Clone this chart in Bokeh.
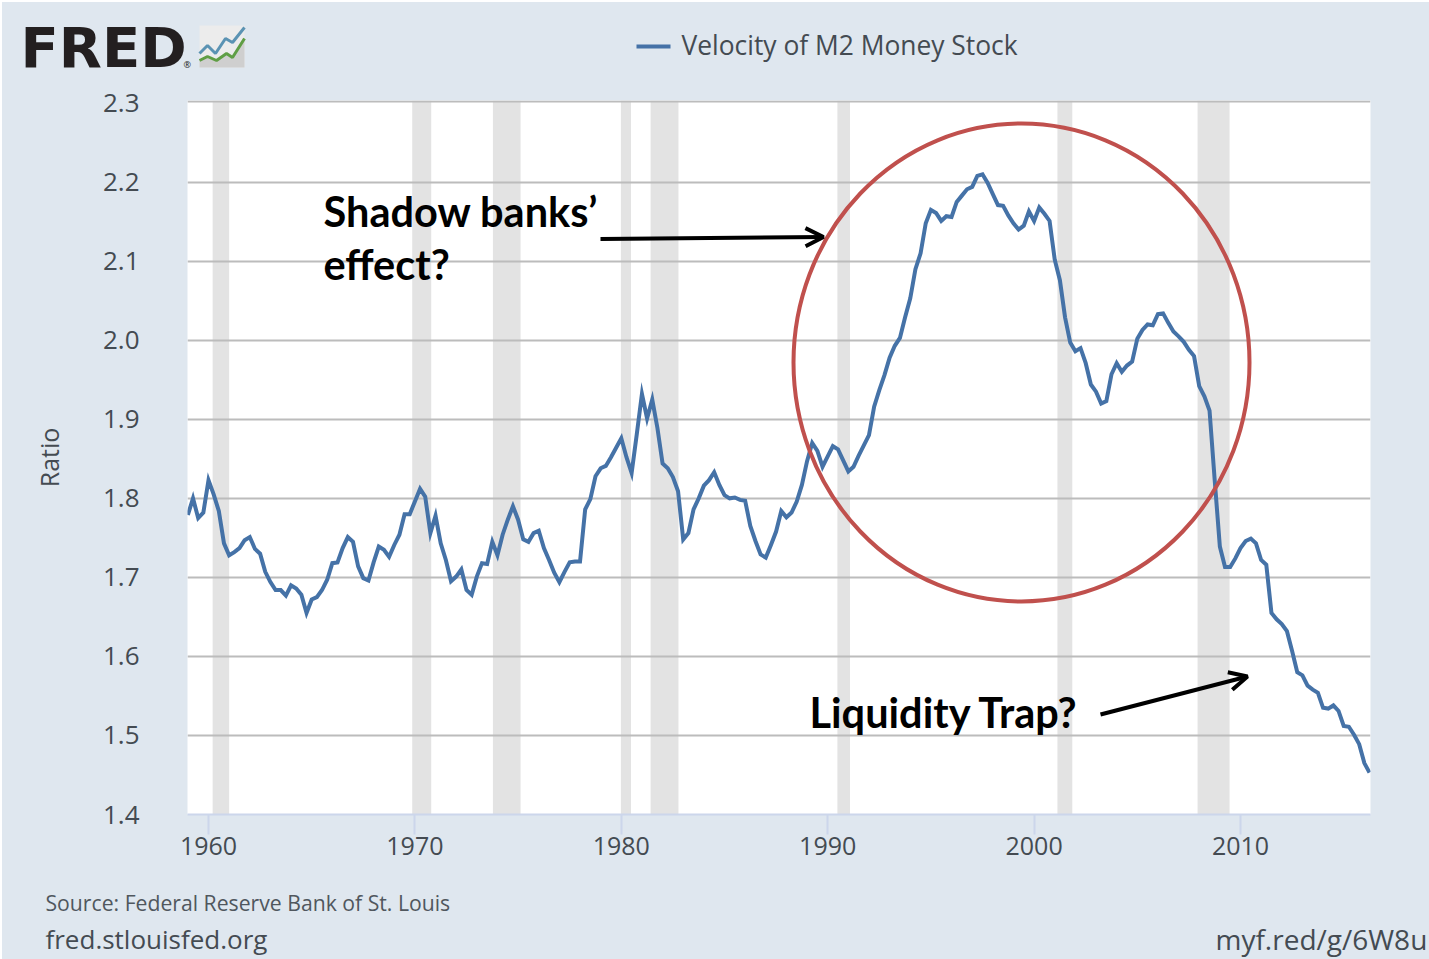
from bokeh.core.properties import value
from bokeh.embed import file_html
from bokeh.layouts import column
from bokeh.resources import INLINE
from bokeh.plotting import figure
from bokeh.models import (Range1d, FixedTicker, Label, Arrow, OpenHead, PrintfTickFormatter, Span)

# ---------- data ----------
START_YEAR = 1959.0
velocity = [
 1.779,1.800,1.775,1.782,1.823,1.805,1.784,1.743,1.728,1.732,1.737,1.747,1.751,1.736,1.730,1.707,
 1.694,1.684,1.684,1.677,1.690,1.686,1.678,1.655,1.672,1.675,1.684,1.697,1.718,1.719,1.737,1.751,
 1.745,1.714,1.699,1.696,1.719,1.739,1.735,1.726,1.741,1.754,1.780,1.780,1.796,1.812,1.802,1.756,
 1.778,1.743,1.722,1.695,1.701,1.710,1.684,1.678,1.701,1.718,1.717,1.745,1.728,1.754,1.773,1.790,
 1.773,1.748,1.745,1.756,1.759,1.737,1.722,1.706,1.694,1.707,1.719,1.720,1.720,1.786,1.799,1.828,
 1.838,1.841,1.852,1.864,1.876,1.852,1.832,1.881,1.932,1.901,1.925,1.889,1.844,1.838,1.827,1.809,
 1.748,1.756,1.786,1.800,1.816,1.823,1.833,1.817,1.804,1.800,1.801,1.798,1.797,1.765,1.746,1.729,
 1.725,1.741,1.758,1.784,1.776,1.782,1.796,1.817,1.847,1.870,1.860,1.840,1.853,1.866,1.862,1.848,
 1.834,1.840,1.854,1.867,1.880,1.916,1.937,1.956,1.978,1.993,2.003,2.029,2.053,2.090,2.110,2.148,
 2.165,2.161,2.151,2.157,2.156,2.175,2.183,2.191,2.194,2.208,2.210,2.199,2.185,2.171,2.170,2.158,
 2.148,2.140,2.145,2.163,2.151,2.168,2.160,2.151,2.102,2.076,2.029,1.997,1.986,1.990,1.971,1.944,
 1.935,1.920,1.923,1.957,1.971,1.960,1.968,1.973,2.002,2.013,2.020,2.019,2.033,2.034,2.022,2.011,
 2.005,1.998,1.988,1.980,1.942,1.929,1.911,1.823,1.739,1.713,1.713,1.724,1.737,1.746,1.749,1.743,
 1.722,1.716,1.655,1.647,1.641,1.632,1.607,1.580,1.576,1.563,1.558,1.554,1.535,1.534,1.538,1.531,
 1.512,1.511,1.501,1.489,1.465,1.453,
]
years = [START_YEAR + 0.25 * i for i in range(len(velocity))]
rec_start = [1960.2, 1969.87, 1973.78, 1979.98, 1981.42, 1990.47, 2001.13, 2007.92]
rec_end   = [1961.0, 1970.79, 1975.12, 1980.47, 1982.77, 1991.08, 2001.85, 2009.47]
x_ticks = [1960, 1970, 1980, 1990, 2000, 2010]
y_ticks = [1.4, 1.5, 1.6, 1.7, 1.8, 1.9, 2.0, 2.1, 2.2, 2.3]
grid_ticks = [1.5, 1.6, 1.7, 1.8, 1.9, 2.0, 2.1, 2.2]
series_name = "Velocity of M2 Money Stock"

# ---------- layout constants (reference pixels) ----------
OX, OY = 2, 2
HDR_END, FTR_START = 84, 880
FL, FR, FT, FB = 187, 1370, 100, 814
W = 1429 - OX
BG = "#dfe7ef"
BLUE = "#4572a7"
TXT = "#444b52"
PX_YEAR, PX_UNIT = 20.64, 790.4
X0, X1 = 1960 + (FL - 208) / PX_YEAR, 1960 + (FR - 208) / PX_YEAR
Y0 = 1.4
Y1 = Y0 + (FB - FT) / PX_UNIT

def dx(px): return X0 + (px - FL) / PX_YEAR
def dy(py): return Y1 - (py - FT) / PX_UNIT

# ---------- main chart ----------
p = figure(width=W, height=FTR_START - HDR_END, output_backend="svg", toolbar_location=None,
           x_range=Range1d(X0, X1), y_range=Range1d(Y0, Y1),
           frame_width=FR - FL, frame_height=FB - FT, frame_align=False,
           min_border_left=FL - OX, min_border_right=W - (FR - OX),
           min_border_top=FT - HDR_END, min_border_bottom=FTR_START - FB,
           background_fill_color="white", border_fill_color=BG, outline_line_color=None,
           styles={"background-color": BG})

p.xgrid.visible = False
p.ygrid.ticker = FixedTicker(ticks=grid_ticks)
p.ygrid.grid_line_color = "#bcbcbc"
p.ygrid.grid_line_width = 2
p.add_layout(Span(location=dy(101), dimension="width", line_color="#bcbcbc", line_width=2))
p.xaxis.ticker = FixedTicker(ticks=x_ticks)
p.yaxis.ticker = FixedTicker(ticks=y_ticks)
p.yaxis.formatter = PrintfTickFormatter(format="%.1f")
p.xaxis.axis_line_color = "#ccd6eb"
p.xaxis.axis_line_width = 2
p.xaxis.major_tick_line_color = "#ccd6eb"
p.xaxis.major_tick_line_width = 2
p.xaxis.major_tick_out = 20
p.xaxis.major_tick_in = 0
p.xaxis.minor_tick_line_color = None
p.xaxis.major_label_standoff = 2
p.yaxis.axis_line_color = None
p.yaxis.major_tick_line_color = None
p.yaxis.minor_tick_line_color = None
p.yaxis.major_label_standoff = 42
p.yaxis.axis_label = "Ratio"
p.yaxis.axis_label_standoff = 34
p.yaxis.axis_label_text_font = "Open Sans"
p.yaxis.axis_label_text_font_style = "normal"
p.yaxis.axis_label_text_font_size = "25px"
p.yaxis.axis_label_text_color = TXT
p.xaxis.major_label_text_font = "Open Sans"
p.xaxis.major_label_text_font_size = "25px"
p.xaxis.major_label_text_color = TXT
p.yaxis.major_label_text_font = "Open Sans"
p.yaxis.major_label_text_font_size = "26px"
p.yaxis.major_label_text_color = TXT

p.quad(left=rec_start, right=rec_end, bottom=Y0, top=Y1, fill_color="#e3e3e3",
       line_color=None, level="image")
p.line(years, velocity, line_color=BLUE, line_width=4, line_join="miter")
p.ellipse(x=[dx(1021)], y=[dy(362)], width=[456 / PX_YEAR], height=[478 / PX_UNIT],
          fill_color=None, line_color="#c0504d", line_width=4)

def note(txt, px, py):
    p.add_layout(Label(x=dx(px), y=dy(py), text=txt, text_font="Lato", text_font_size="41.5px",
                       text_color="black", text_font_style="bold", text_baseline="middle"))

def arrow(x0, y0, x1, y1):
    p.add_layout(Arrow(x_start=dx(x0), y_start=dy(y0), x_end=dx(x1), y_end=dy(y1),
                       line_color="black", line_width=4,
                       end=OpenHead(size=18, line_color="black", line_width=4)))

note("Shadow banks’", 323, 210)
note("effect?", 323, 263)
note("Liquidity Trap?", 809, 711)
arrow(600, 238.5, 823, 236.5)
arrow(1100, 714, 1247, 676)

# ---------- header and footer strips: their ranges are page pixels ----------
def strip(y_top, y_bot):
    f = figure(width=W, height=y_bot - y_top, output_backend="svg", toolbar_location=None,
               x_range=Range1d(OX, 1429), y_range=Range1d(y_bot, y_top),
               x_axis_location=None, y_axis_location=None, min_border=0, frame_align=False,
               background_fill_color=BG, border_fill_color=BG, outline_line_color=None,
               styles={"background-color": BG})
    f.grid.visible = False
    return f

def text(f, txt, px, py, size, color=TXT, font="Open Sans", style="normal", align="left"):
    f.text([px], [py], text=[txt], text_font=value(font), text_font_size=value(f"{size}px"),
           text_color=color, text_font_style=style, text_align=align, text_baseline="middle")

hdr = strip(OY, HDR_END)
text(hdr, "FRED", 20, 47, 56, "#231f20", "DejaVu Sans", "bold")
text(hdr, "®", 183, 64, 9, "#231f20")
hdr.patch([199, 244, 244, 199], [25, 25, 67, 67], fill_color="#ececec", line_color=None)
hdr.patch([199, 207, 216, 226, 232, 244, 244, 199], [60, 56, 60, 53, 57, 38, 67, 67],
          fill_color="#cfcfcf", line_color=None)
hdr.line([199, 207, 215, 225, 232, 244], [53, 45, 53, 38, 42, 27], line_color="#5b93b3", line_width=3)
hdr.line([199, 207, 216, 226, 232, 244], [60, 56, 60, 53, 57, 38], line_color="#5f9e45", line_width=3)
hdr.line([636, 670], [46, 46], line_color=BLUE, line_width=4)
text(hdr, series_name, 681, 44.5, 26.4)

ftr = strip(FTR_START, 959)
text(ftr, "Source: Federal Reserve Bank of St. Louis", 45, 901.5, 21.2, "#50575e")
text(ftr, "fred.stlouisfed.org", 45, 938.5, 26)
text(ftr, "myf.red/g/6W8u", 1215, 938.5, 28)

layout = column(hdr, p, ftr, spacing=0, margin=(OY, 0, 0, OX), styles={"background-color": BG})
open("out.html", "w").write(file_html(layout, INLINE))
